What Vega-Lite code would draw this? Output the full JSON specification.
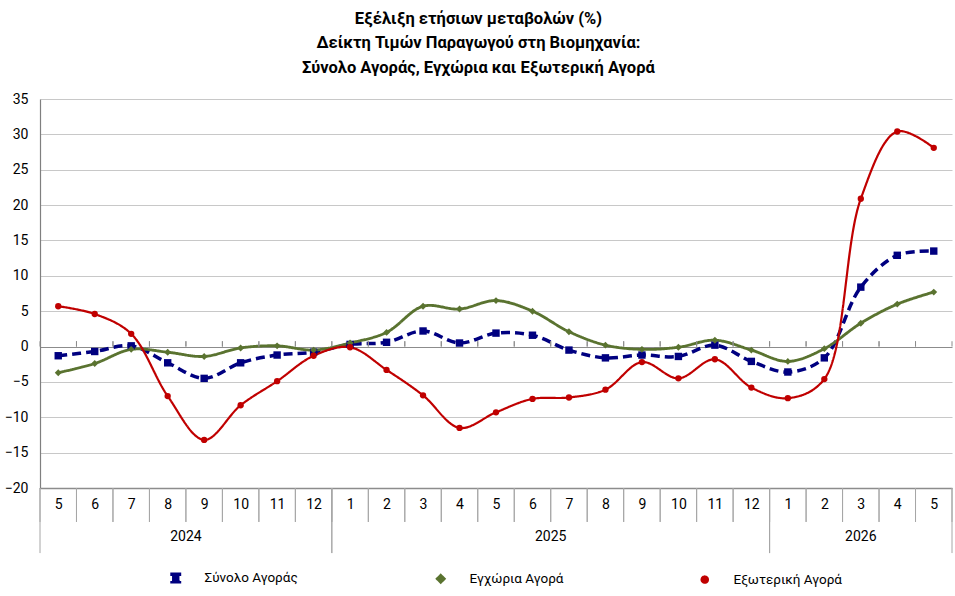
{
  "$schema": "https://vega.github.io/schema/vega-lite/v6.json",
  "width": 912,
  "height": 389,
  "autosize": "none",
  "padding": {"left": 40, "top": 99, "right": 3, "bottom": 108},
  "background": "white",
  "config": {
    "view": {"stroke": null},
    "font": "Liberation Sans Narrow, Roboto, sans-serif"
  },
  "title": {
    "text": ["Εξέλιξη ετήσιων μεταβολών (%)", "Δείκτη Τιμών Παραγωγού στη Βιομηχανία:", "Σύνολο Αγοράς, Εγχώρια και Εξωτερική Αγορά"],
    "fontSize": 16.5,
    "fontWeight": "bold",
    "lineHeight": 24.5,
    "color": "#000000",
    "anchor": "middle",
    "frame": "bounds",
    "offset": 16
  },
  "datasets": {
    "months": [
      {"i": 0, "year": 2024, "month": 5}, {"i": 1, "year": 2024, "month": 6}, {"i": 2, "year": 2024, "month": 7},
      {"i": 3, "year": 2024, "month": 8}, {"i": 4, "year": 2024, "month": 9}, {"i": 5, "year": 2024, "month": 10},
      {"i": 6, "year": 2024, "month": 11}, {"i": 7, "year": 2024, "month": 12},
      {"i": 8, "year": 2025, "month": 1}, {"i": 9, "year": 2025, "month": 2}, {"i": 10, "year": 2025, "month": 3},
      {"i": 11, "year": 2025, "month": 4}, {"i": 12, "year": 2025, "month": 5}, {"i": 13, "year": 2025, "month": 6},
      {"i": 14, "year": 2025, "month": 7}, {"i": 15, "year": 2025, "month": 8}, {"i": 16, "year": 2025, "month": 9},
      {"i": 17, "year": 2025, "month": 10}, {"i": 18, "year": 2025, "month": 11}, {"i": 19, "year": 2025, "month": 12},
      {"i": 20, "year": 2026, "month": 1}, {"i": 21, "year": 2026, "month": 2}, {"i": 22, "year": 2026, "month": 3},
      {"i": 23, "year": 2026, "month": 4}, {"i": 24, "year": 2026, "month": 5}
    ],
    "series": [
      {"i": 0, "series": "Σύνολο Αγοράς", "value": -1.3},
      {"i": 1, "series": "Σύνολο Αγοράς", "value": -0.7},
      {"i": 2, "series": "Σύνολο Αγοράς", "value": 0.1},
      {"i": 3, "series": "Σύνολο Αγοράς", "value": -2.3},
      {"i": 4, "series": "Σύνολο Αγοράς", "value": -4.5},
      {"i": 5, "series": "Σύνολο Αγοράς", "value": -2.3},
      {"i": 6, "series": "Σύνολο Αγοράς", "value": -1.2},
      {"i": 7, "series": "Σύνολο Αγοράς", "value": -0.8},
      {"i": 8, "series": "Σύνολο Αγοράς", "value": 0.3},
      {"i": 9, "series": "Σύνολο Αγοράς", "value": 0.6},
      {"i": 10, "series": "Σύνολο Αγοράς", "value": 2.2},
      {"i": 11, "series": "Σύνολο Αγοράς", "value": 0.5},
      {"i": 12, "series": "Σύνολο Αγοράς", "value": 1.9},
      {"i": 13, "series": "Σύνολο Αγοράς", "value": 1.6},
      {"i": 14, "series": "Σύνολο Αγοράς", "value": -0.5},
      {"i": 15, "series": "Σύνολο Αγοράς", "value": -1.6},
      {"i": 16, "series": "Σύνολο Αγοράς", "value": -1.2},
      {"i": 17, "series": "Σύνολο Αγοράς", "value": -1.4},
      {"i": 18, "series": "Σύνολο Αγοράς", "value": 0.2},
      {"i": 19, "series": "Σύνολο Αγοράς", "value": -2.1},
      {"i": 20, "series": "Σύνολο Αγοράς", "value": -3.6},
      {"i": 21, "series": "Σύνολο Αγοράς", "value": -1.6},
      {"i": 22, "series": "Σύνολο Αγοράς", "value": 8.4},
      {"i": 23, "series": "Σύνολο Αγοράς", "value": 12.9},
      {"i": 24, "series": "Σύνολο Αγοράς", "value": 13.5},
      {"i": 0, "series": "Εγχώρια Αγορά", "value": -3.7},
      {"i": 1, "series": "Εγχώρια Αγορά", "value": -2.4},
      {"i": 2, "series": "Εγχώρια Αγορά", "value": -0.4},
      {"i": 3, "series": "Εγχώρια Αγορά", "value": -0.8},
      {"i": 4, "series": "Εγχώρια Αγορά", "value": -1.4},
      {"i": 5, "series": "Εγχώρια Αγορά", "value": -0.2},
      {"i": 6, "series": "Εγχώρια Αγορά", "value": 0.1},
      {"i": 7, "series": "Εγχώρια Αγορά", "value": -0.5},
      {"i": 8, "series": "Εγχώρια Αγορά", "value": 0.5},
      {"i": 9, "series": "Εγχώρια Αγορά", "value": 2.0},
      {"i": 10, "series": "Εγχώρια Αγορά", "value": 5.7},
      {"i": 11, "series": "Εγχώρια Αγορά", "value": 5.3},
      {"i": 12, "series": "Εγχώρια Αγορά", "value": 6.5},
      {"i": 13, "series": "Εγχώρια Αγορά", "value": 5.0},
      {"i": 14, "series": "Εγχώρια Αγορά", "value": 2.1},
      {"i": 15, "series": "Εγχώρια Αγορά", "value": 0.2},
      {"i": 16, "series": "Εγχώρια Αγορά", "value": -0.4},
      {"i": 17, "series": "Εγχώρια Αγορά", "value": -0.1},
      {"i": 18, "series": "Εγχώρια Αγορά", "value": 0.9},
      {"i": 19, "series": "Εγχώρια Αγορά", "value": -0.5},
      {"i": 20, "series": "Εγχώρια Αγορά", "value": -2.1},
      {"i": 21, "series": "Εγχώρια Αγορά", "value": -0.3},
      {"i": 22, "series": "Εγχώρια Αγορά", "value": 3.3},
      {"i": 23, "series": "Εγχώρια Αγορά", "value": 6.0},
      {"i": 24, "series": "Εγχώρια Αγορά", "value": 7.7},
      {"i": 0, "series": "Εξωτερική Αγορά", "value": 5.7},
      {"i": 1, "series": "Εξωτερική Αγορά", "value": 4.6},
      {"i": 2, "series": "Εξωτερική Αγορά", "value": 1.8},
      {"i": 3, "series": "Εξωτερική Αγορά", "value": -7.0},
      {"i": 4, "series": "Εξωτερική Αγορά", "value": -13.2},
      {"i": 5, "series": "Εξωτερική Αγορά", "value": -8.3},
      {"i": 6, "series": "Εξωτερική Αγορά", "value": -4.9},
      {"i": 7, "series": "Εξωτερική Αγορά", "value": -1.3},
      {"i": 8, "series": "Εξωτερική Αγορά", "value": -0.1},
      {"i": 9, "series": "Εξωτερική Αγορά", "value": -3.3},
      {"i": 10, "series": "Εξωτερική Αγορά", "value": -6.9},
      {"i": 11, "series": "Εξωτερική Αγορά", "value": -11.5},
      {"i": 12, "series": "Εξωτερική Αγορά", "value": -9.3},
      {"i": 13, "series": "Εξωτερική Αγορά", "value": -7.4},
      {"i": 14, "series": "Εξωτερική Αγορά", "value": -7.2},
      {"i": 15, "series": "Εξωτερική Αγορά", "value": -6.1},
      {"i": 16, "series": "Εξωτερική Αγορά", "value": -2.2},
      {"i": 17, "series": "Εξωτερική Αγορά", "value": -4.5},
      {"i": 18, "series": "Εξωτερική Αγορά", "value": -1.8},
      {"i": 19, "series": "Εξωτερική Αγορά", "value": -5.8},
      {"i": 20, "series": "Εξωτερική Αγορά", "value": -7.3},
      {"i": 21, "series": "Εξωτερική Αγορά", "value": -4.6},
      {"i": 22, "series": "Εξωτερική Αγορά", "value": 20.9},
      {"i": 23, "series": "Εξωτερική Αγορά", "value": 30.4},
      {"i": 24, "series": "Εξωτερική Αγορά", "value": 28.1}
    ]
  },
  "layer": [
    {
      "data": {"name": "series"},
      "mark": {"type": "line", "interpolate": "catmull-rom"},
      "encoding": {
        "x": {
          "field": "i",
          "type": "quantitative",
          "scale": {"domain": [-0.5, 24.5], "nice": false, "zero": false},
          "axis": {
            "title": null,
            "values": [0, 1, 2, 3, 4, 5, 6, 7, 8, 9, 10, 11, 12, 13, 14, 15, 16, 17, 18, 19, 20, 21, 22, 23, 24],
            "labelExpr": "((datum.value + 4) % 12) + 1",
            "ticks": false,
            "grid": false,
            "domain": true,
            "domainColor": "#8c8c8c",
            "domainWidth": 1.5,
            "labelFontSize": 14,
            "labelColor": "#000000",
            "labelPadding": 9,
            "labelFlush": false,
            "labelOverlap": false
          }
        },
        "y": {
          "field": "value",
          "type": "quantitative",
          "scale": {"domain": [-20, 35], "nice": false, "zero": false},
          "axis": {
            "title": null,
            "values": [-20, -15, -10, -5, 0, 5, 10, 15, 20, 25, 30, 35],
            "ticks": false,
            "grid": true,
            "gridColor": {"condition": {"test": "datum.value === 0", "value": "#8c8c8c"}, "value": "#c8c8c8"},
            "gridWidth": 1,
            "domain": true,
            "domainColor": "#7f7f7f",
            "domainWidth": 1.2,
            "labelFontSize": 14,
            "labelColor": "#000000",
            "labelPadding": 12,
            "labelFlush": false,
            "labelOverlap": false
          }
        },
        "color": {
          "field": "series",
          "type": "nominal",
          "scale": {
            "domain": ["Σύνολο Αγοράς", "Εγχώρια Αγορά", "Εξωτερική Αγορά"],
            "range": ["#000080", "#5a7330", "#c00000"]
          },
          "legend": {
            "title": null,
            "orient": "none",
            "direction": "horizontal",
            "legendX": 129,
            "legendY": 472,
            "symbolSize": 60,
            "labelFontSize": 13.5,
            "labelColor": "#000000",
            "labelOffset": 22,
            "columnPadding": 133
          }
        },
        "strokeDash": {
          "field": "series",
          "type": "nominal",
          "scale": {"domain": ["Σύνολο Αγοράς", "Εγχώρια Αγορά", "Εξωτερική Αγορά"], "range": [[9, 5], [1, 0], [1, 0]]},
          "legend": null
        },
        "strokeWidth": {
          "field": "series",
          "type": "nominal",
          "scale": {"domain": ["Σύνολο Αγοράς", "Εγχώρια Αγορά", "Εξωτερική Αγορά"], "range": [3.5, 2.2, 1.6]},
          "legend": null
        }
      }
    },
    {
      "data": {"name": "series"},
      "mark": {"type": "point", "filled": true, "opacity": 1},
      "encoding": {
        "x": {
          "field": "i",
          "type": "quantitative",
          "scale": {"domain": [-0.5, 24.5], "nice": false, "zero": false},
          "axis": {
            "title": null,
            "values": [0, 1, 2, 3, 4, 5, 6, 7, 8, 9, 10, 11, 12, 13, 14, 15, 16, 17, 18, 19, 20, 21, 22, 23, 24],
            "labelExpr": "((datum.value + 4) % 12) + 1",
            "ticks": false,
            "grid": false,
            "domain": true,
            "domainColor": "#8c8c8c",
            "domainWidth": 1.5,
            "labelFontSize": 14,
            "labelColor": "#000000",
            "labelPadding": 9,
            "labelFlush": false,
            "labelOverlap": false
          }
        },
        "y": {
          "field": "value",
          "type": "quantitative",
          "scale": {"domain": [-20, 35], "nice": false, "zero": false},
          "axis": {
            "title": null,
            "values": [-20, -15, -10, -5, 0, 5, 10, 15, 20, 25, 30, 35],
            "ticks": false,
            "grid": true,
            "gridColor": {"condition": {"test": "datum.value === 0", "value": "#8c8c8c"}, "value": "#c8c8c8"},
            "gridWidth": 1,
            "domain": true,
            "domainColor": "#7f7f7f",
            "domainWidth": 1.2,
            "labelFontSize": 14,
            "labelColor": "#000000",
            "labelPadding": 12,
            "labelFlush": false,
            "labelOverlap": false
          }
        },
        "color": {"field": "series", "type": "nominal"},
        "shape": {
          "field": "series",
          "type": "nominal",
          "scale": {"domain": ["Σύνολο Αγοράς", "Εγχώρια Αγορά", "Εξωτερική Αγορά"], "range": ["square", "diamond", "circle"]},
          "legend": null
        },
        "size": {
          "field": "series",
          "type": "nominal",
          "scale": {"domain": ["Σύνολο Αγοράς", "Εγχώρια Αγορά", "Εξωτερική Αγορά"], "range": [55, 40, 36]},
          "legend": null
        }
      }
    },
    {
      "data": {"name": "months"},
      "transform": [
        {"calculate": "datum.i - 0.5", "as": "lo"},
        {"calculate": "datum.i + 0.5", "as": "hi"},
        {"fold": ["lo", "hi"], "as": ["side", "b"]}
      ],
      "layer": [
        {
          "mark": {"type": "rule", "color": "#8c8c8c", "strokeWidth": 1},
          "encoding": {
            "x": {
              "field": "b",
              "type": "quantitative",
              "axis": {
                "title": null,
                "values": [0, 1, 2, 3, 4, 5, 6, 7, 8, 9, 10, 11, 12, 13, 14, 15, 16, 17, 18, 19, 20, 21, 22, 23, 24],
                "labelExpr": "((datum.value + 4) % 12) + 1",
                "ticks": false,
                "grid": false,
                "domain": true,
                "domainColor": "#8c8c8c",
                "domainWidth": 1.5,
                "labelFontSize": 14,
                "labelColor": "#000000",
                "labelPadding": 9,
                "labelFlush": false,
                "labelOverlap": false
              }
            },
            "y": {
              "datum": 0,
              "axis": {
                "title": null,
                "values": [-20, -15, -10, -5, 0, 5, 10, 15, 20, 25, 30, 35],
                "ticks": false,
                "grid": true,
                "gridColor": {"condition": {"test": "datum.value === 0", "value": "#8c8c8c"}, "value": "#c8c8c8"},
                "gridWidth": 1,
                "domain": true,
                "domainColor": "#7f7f7f",
                "domainWidth": 1.2,
                "labelFontSize": 14,
                "labelColor": "#000000",
                "labelPadding": 12,
                "labelFlush": false,
                "labelOverlap": false
              }
            },
            "y2": {"datum": 0.75}
          }
        },
        {
          "mark": {"type": "rule", "color": "#a6a6a6", "strokeWidth": 1},
          "encoding": {
            "x": {
              "field": "b",
              "type": "quantitative",
              "axis": {
                "title": null,
                "values": [0, 1, 2, 3, 4, 5, 6, 7, 8, 9, 10, 11, 12, 13, 14, 15, 16, 17, 18, 19, 20, 21, 22, 23, 24],
                "labelExpr": "((datum.value + 4) % 12) + 1",
                "ticks": false,
                "grid": false,
                "domain": true,
                "domainColor": "#8c8c8c",
                "domainWidth": 1.5,
                "labelFontSize": 14,
                "labelColor": "#000000",
                "labelPadding": 9,
                "labelFlush": false,
                "labelOverlap": false
              }
            },
            "y": {
              "datum": -20,
              "axis": {
                "title": null,
                "values": [-20, -15, -10, -5, 0, 5, 10, 15, 20, 25, 30, 35],
                "ticks": false,
                "grid": true,
                "gridColor": {"condition": {"test": "datum.value === 0", "value": "#8c8c8c"}, "value": "#c8c8c8"},
                "gridWidth": 1,
                "domain": true,
                "domainColor": "#7f7f7f",
                "domainWidth": 1.2,
                "labelFontSize": 14,
                "labelColor": "#000000",
                "labelPadding": 12,
                "labelFlush": false,
                "labelOverlap": false
              }
            },
            "y2": {"datum": -24.8}
          }
        }
      ]
    },
    {
      "data": {"name": "months"},
      "transform": [
        {"aggregate": [{"op": "min", "field": "i", "as": "first"}, {"op": "max", "field": "i", "as": "last"}], "groupby": ["year"]},
        {"calculate": "datum.first - 0.5", "as": "lo"},
        {"calculate": "datum.last + 0.5", "as": "hi"},
        {"fold": ["lo", "hi"], "as": ["side", "b"]}
      ],
      "mark": {"type": "rule", "color": "#a6a6a6", "strokeWidth": 1},
      "encoding": {
        "x": {
          "field": "b",
          "type": "quantitative",
          "axis": {
            "title": null,
            "values": [0, 1, 2, 3, 4, 5, 6, 7, 8, 9, 10, 11, 12, 13, 14, 15, 16, 17, 18, 19, 20, 21, 22, 23, 24],
            "labelExpr": "((datum.value + 4) % 12) + 1",
            "ticks": false,
            "grid": false,
            "domain": true,
            "domainColor": "#8c8c8c",
            "domainWidth": 1.5,
            "labelFontSize": 14,
            "labelColor": "#000000",
            "labelPadding": 9,
            "labelFlush": false,
            "labelOverlap": false
          }
        },
        "y": {
          "datum": -20,
          "axis": {
            "title": null,
            "values": [-20, -15, -10, -5, 0, 5, 10, 15, 20, 25, 30, 35],
            "ticks": false,
            "grid": true,
            "gridColor": {"condition": {"test": "datum.value === 0", "value": "#8c8c8c"}, "value": "#c8c8c8"},
            "gridWidth": 1,
            "domain": true,
            "domainColor": "#7f7f7f",
            "domainWidth": 1.2,
            "labelFontSize": 14,
            "labelColor": "#000000",
            "labelPadding": 12,
            "labelFlush": false,
            "labelOverlap": false
          }
        },
        "y2": {"datum": -29.2}
      }
    },
    {
      "data": {"name": "months"},
      "transform": [
        {"aggregate": [{"op": "mean", "field": "i", "as": "mid"}], "groupby": ["year"]}
      ],
      "mark": {"type": "text", "fontSize": 14, "color": "#000000", "baseline": "middle", "align": "center"},
      "encoding": {
        "x": {
          "field": "mid",
          "type": "quantitative",
          "axis": {
            "title": null,
            "values": [0, 1, 2, 3, 4, 5, 6, 7, 8, 9, 10, 11, 12, 13, 14, 15, 16, 17, 18, 19, 20, 21, 22, 23, 24],
            "labelExpr": "((datum.value + 4) % 12) + 1",
            "ticks": false,
            "grid": false,
            "domain": true,
            "domainColor": "#8c8c8c",
            "domainWidth": 1.5,
            "labelFontSize": 14,
            "labelColor": "#000000",
            "labelPadding": 9,
            "labelFlush": false,
            "labelOverlap": false
          }
        },
        "y": {
          "datum": -26.9,
          "axis": {
            "title": null,
            "values": [-20, -15, -10, -5, 0, 5, 10, 15, 20, 25, 30, 35],
            "ticks": false,
            "grid": true,
            "gridColor": {"condition": {"test": "datum.value === 0", "value": "#8c8c8c"}, "value": "#c8c8c8"},
            "gridWidth": 1,
            "domain": true,
            "domainColor": "#7f7f7f",
            "domainWidth": 1.2,
            "labelFontSize": 14,
            "labelColor": "#000000",
            "labelPadding": 12,
            "labelFlush": false,
            "labelOverlap": false
          }
        },
        "text": {"field": "year", "type": "nominal"}
      }
    }
  ]
}
